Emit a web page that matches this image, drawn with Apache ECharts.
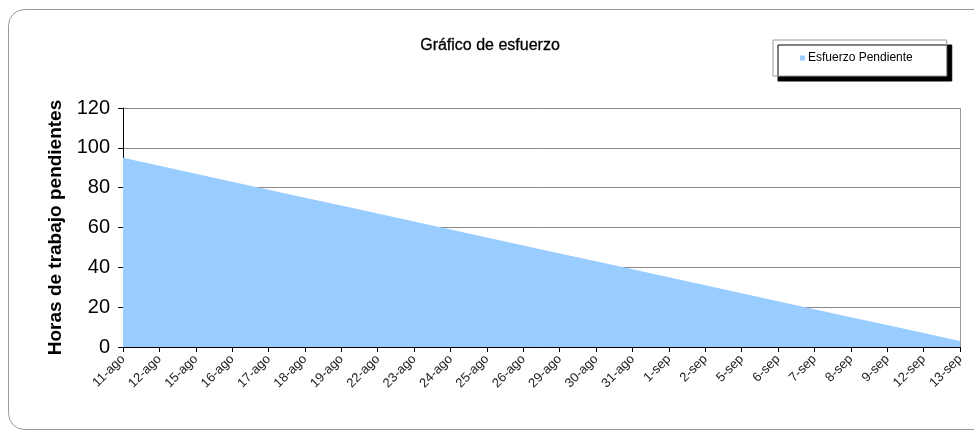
<!DOCTYPE html>
<html>
<head>
<meta charset="utf-8">
<style>html,body{margin:0;padding:0;background:#fff;}#c{width:974px;height:431px;}</style>
<script src="https://cdn.jsdelivr.net/npm/echarts@6/dist/echarts.min.js"></script>
</head>
<body>
<div id="c"></div>
<script>
var categories = ['11-ago','12-ago','15-ago','16-ago','17-ago','18-ago','19-ago','22-ago','23-ago','24-ago','25-ago','26-ago','29-ago','30-ago','31-ago','1-sep','2-sep','5-sep','6-sep','7-sep','8-sep','9-sep','12-sep','13-sep'];
var esfuerzoPendiente = [95,91,87,83,79,75,71,67,63,59,55,51,47,43,39,35,31,27,23,19,15,11,7,3];
var yTicks = [0,20,40,60,80,100,120];

var FONT = '"Liberation Sans Narrow", "Liberation Sans", Arial, sans-serif';
var chart = echarts.init(document.getElementById('c'));
chart.setOption({
  animation: false,
  title: {
    text: 'Gráfico de esfuerzo',
    left: 485, top: 33, textAlign: 'center',
    textStyle: {fontFamily: FONT, fontSize: 16, fontWeight: 'normal', color: '#000', textBorderColor: '#000', textBorderWidth: 0.3}
  },
  legend: {
    data: ['Esfuerzo Pendiente'],
    left: 773, top: 40,
    padding: [12, 34, 12, 27],
    backgroundColor: '#fff',
    borderColor: '#999', borderWidth: 1,
    shadowColor: '#000', shadowBlur: 0, shadowOffsetX: 5, shadowOffsetY: 5,
    icon: 'rect', itemWidth: 5, itemHeight: 5, itemGap: 2,
    textStyle: {fontFamily: FONT, fontSize: 12, color: '#000', padding: [0,0,0,-2]}
  },
  graphic: [{
    type: 'rect', shape: {x: 8.5, y: 9.5, width: 990, height: 420, r: 16},
    style: {fill: 'none', stroke: '#999', lineWidth: 1}, z: -1
  }, {
    type: 'line', shape: {x1: 960.5, y1: 108, x2: 960.5, y2: 347},
    style: {stroke: '#999', lineWidth: 1}, z: 5
  }],
  grid: {left: 123, right: 14, top: 108, bottom: 84},
  xAxis: {
    type: 'category', data: categories, boundaryGap: false,
    axisLine: {lineStyle: {color: '#000', width: 1}},
    axisTick: {show: true, length: 5, alignWithLabel: true, lineStyle: {color: '#000'}},
    axisLabel: {interval: 0, rotate: 45, fontFamily: FONT, fontSize: 13, color: '#222', margin: 10}
  },
  yAxis: {
    type: 'value', min: yTicks[0], max: yTicks[yTicks.length-1], interval: 20,
    name: 'Horas de trabajo pendientes', nameLocation: 'middle', nameGap: 54, nameRotate: 90,
    nameTextStyle: {fontFamily: '"Liberation Sans", Arial, sans-serif', fontWeight: 'bold', fontSize: 19, color: '#000'},
    axisLine: {show: true, lineStyle: {color: '#000'}},
    axisTick: {show: true, length: 5, lineStyle: {color: '#000'}},
    axisLabel: {fontFamily: FONT, fontSize: 20, color: '#000', margin: 13},
    splitLine: {lineStyle: {color: '#888', width: 1}}
  },
  series: [{
    name: 'Esfuerzo Pendiente', type: 'line', data: esfuerzoPendiente,
    showSymbol: false, symbol: 'none',
    itemStyle: {color: '#99CCFF'},
    lineStyle: {width: 0, color: '#99CCFF'},
    areaStyle: {color: '#99CCFF', opacity: 1}
  }]
});
</script>
</body>
</html>
